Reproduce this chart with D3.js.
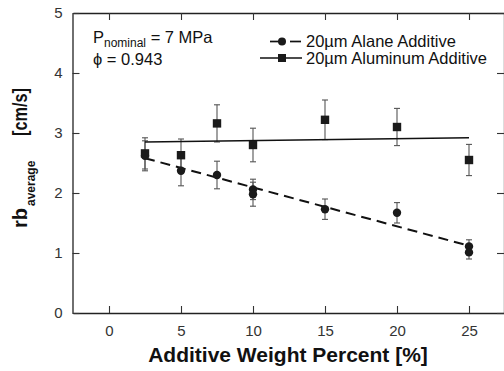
<!DOCTYPE html>
<html><head><meta charset="utf-8">
<script src="https://cdn.jsdelivr.net/npm/d3@7"></script>
<style>
body{margin:0;background:#fff;}
svg{display:block;font-family:"Liberation Sans",Arial,Helvetica,sans-serif;}
</style></head>
<body><svg id="c" width="504" height="371"></svg>
<script>
// ---- data ----
const alaneX = [2.5, 5, 7.5, 10, 10, 15, 20, 25, 25];
const alaneY = [2.62, 2.37, 2.30, 2.06, 1.98, 1.73, 1.67, 1.11, 1.01];
const alaneErr = [0.25, 0.25, 0.23, 0.17, 0.20, 0.17, 0.17, 0.11, 0.11];
const aluminumX = [2.5, 5, 7.5, 10, 15, 20, 25];
const aluminumY = [2.66, 2.63, 3.16, 2.80, 3.22, 3.10, 2.55];
const aluminumErr = [0.26, 0.27, 0.31, 0.28, 0.33, 0.31, 0.26];
const fitX = [2.5, 25];
const alaneFit = [2.58, 1.12];
const aluminumFit = [2.85, 2.92];
const xTicks = [0, 5, 10, 15, 20, 25];
const yTicks = [0, 1, 2, 3, 4, 5];
const legendLabels = ["20\u00b5m Alane Additive", "20\u00b5m Aluminum Additive"];

// ---- chart ----
const svg = d3.select("#c");
const x = d3.scaleLinear().domain([-2.5, 27.5]).range([73, 505]);
const y = d3.scaleLinear().domain([0, 5]).range([313, 13]);
const tickColor = "#333";

// frame
const g = svg.append("g");
g.append("g").attr("transform", "translate(0,313)")
  .call(d3.axisBottom(x).tickValues(xTicks).tickFormat(d3.format("d")).tickSizeInner(-7).tickSizeOuter(0).tickPadding(12));
g.append("g").attr("transform", "translate(0,13)")
  .call(d3.axisTop(x).tickValues(xTicks).tickSizeInner(-7).tickSizeOuter(0).tickFormat(""));
g.append("g").attr("transform", "translate(72.5,0)")
  .call(d3.axisLeft(y).tickValues(yTicks).tickFormat(d3.format("d")).tickSizeInner(-7).tickSizeOuter(0).tickPadding(10));
g.append("g").attr("transform", "translate(504,0)")
  .call(d3.axisRight(y).tickValues(yTicks).tickSizeInner(-7).tickSizeOuter(0).tickFormat(""));
g.selectAll(".domain").attr("stroke", "#222").attr("stroke-width", 1.3);
g.selectAll(".tick line").attr("stroke", "#333").attr("stroke-width", 1.1);
g.selectAll(".tick text").attr("font-size", 15).attr("fill", tickColor)
  .attr("font-family", "Liberation Sans, Arial, sans-serif");

// error bars
function errbars(xs, ys, es) {
  const eg = svg.append("g").attr("stroke", "#555").attr("stroke-width", 1.1);
  xs.forEach((xv, i) => {
    const cx = x(xv), t = y(ys[i] + es[i]), b = y(ys[i] - es[i]);
    eg.append("line").attr("x1", cx).attr("x2", cx).attr("y1", t).attr("y2", b);
    eg.append("line").attr("x1", cx - 3).attr("x2", cx + 3).attr("y1", t).attr("y2", t);
    eg.append("line").attr("x1", cx - 3).attr("x2", cx + 3).attr("y1", b).attr("y2", b);
  });
}
errbars(aluminumX, aluminumY, aluminumErr);
errbars(alaneX, alaneY, alaneErr);

// fit lines
const line = d3.line().x(d => x(d[0])).y(d => y(d[1]));
svg.append("path").datum(fitX.map((v, i) => [v, aluminumFit[i]]))
  .attr("d", line).attr("fill", "none").attr("stroke", "#111").attr("stroke-width", 1.6);
svg.append("path").datum(fitX.map((v, i) => [v, alaneFit[i]]))
  .attr("d", line).attr("fill", "none").attr("stroke", "#111").attr("stroke-width", 2)
  .attr("stroke-dasharray", "10,6");

// markers
svg.append("g").selectAll("rect").data(aluminumX).join("rect")
  .attr("x", (d) => x(d) - 4.2).attr("y", (d, i) => y(aluminumY[i]) - 4.2)
  .attr("width", 8.4).attr("height", 8.4).attr("fill", "#1a1a1a");
svg.append("g").selectAll("circle").data(alaneX).join("circle")
  .attr("cx", d => x(d)).attr("cy", (d, i) => y(alaneY[i])).attr("r", 4.2).attr("fill", "#1a1a1a");

// annotation
const ann = svg.append("text").attr("x", 93).attr("y", 42.5).attr("font-size", 16.5).attr("fill", "#111");
ann.append("tspan").text("P");
ann.append("tspan").attr("font-size", 12).attr("dy", 4).text("nominal");
ann.append("tspan").attr("dy", -4).text(" = 7 MPa");
svg.append("text").attr("x", 93).attr("y", 65).attr("font-size", 16.5).attr("fill", "#111").text("\u03d5 = 0.943");

// legend
const lg = svg.append("g");
lg.append("line").attr("x1", 270).attr("x2", 279).attr("y1", 41.5).attr("y2", 41.5)
  .attr("stroke", "#111").attr("stroke-width", 1.7);
lg.append("line").attr("x1", 290).attr("x2", 301).attr("y1", 41.5).attr("y2", 41.5)
  .attr("stroke", "#111").attr("stroke-width", 1.7);
lg.append("circle").attr("cx", 282).attr("cy", 41.5).attr("r", 4).attr("fill", "#1a1a1a");
lg.append("line").attr("x1", 260).attr("x2", 302).attr("y1", 58).attr("y2", 58)
  .attr("stroke", "#111").attr("stroke-width", 1.6);
lg.append("rect").attr("x", 278).attr("y", 54).attr("width", 8).attr("height", 8).attr("fill", "#1a1a1a");
lg.selectAll("text.l").data(legendLabels).join("text").attr("class", "l")
  .attr("x", 306).attr("y", (d, i) => 47 + i * 16.5).attr("font-size", 16.5).attr("fill", "#111").text(d => d);

// axis titles
svg.append("text").attr("x", 288).attr("y", 362).attr("text-anchor", "middle")
  .attr("font-size", 21).attr("font-weight", "bold").attr("fill", "#111").text("Additive Weight Percent [%]");
const yt = svg.append("g").attr("transform", "translate(27,0) rotate(-90)")
  .attr("font-weight", "bold").attr("fill", "#111");
yt.append("text").attr("x", -228).attr("y", 0).attr("font-size", 20).text("rb");
yt.append("text").attr("x", -206).attr("y", 8).attr("font-size", 12).text("average");
yt.append("text").attr("x", -136).attr("y", 0).attr("font-size", 20)
  .attr("textLength", 48).attr("lengthAdjust", "spacingAndGlyphs").text("[cm/s]");
</script></body></html>
